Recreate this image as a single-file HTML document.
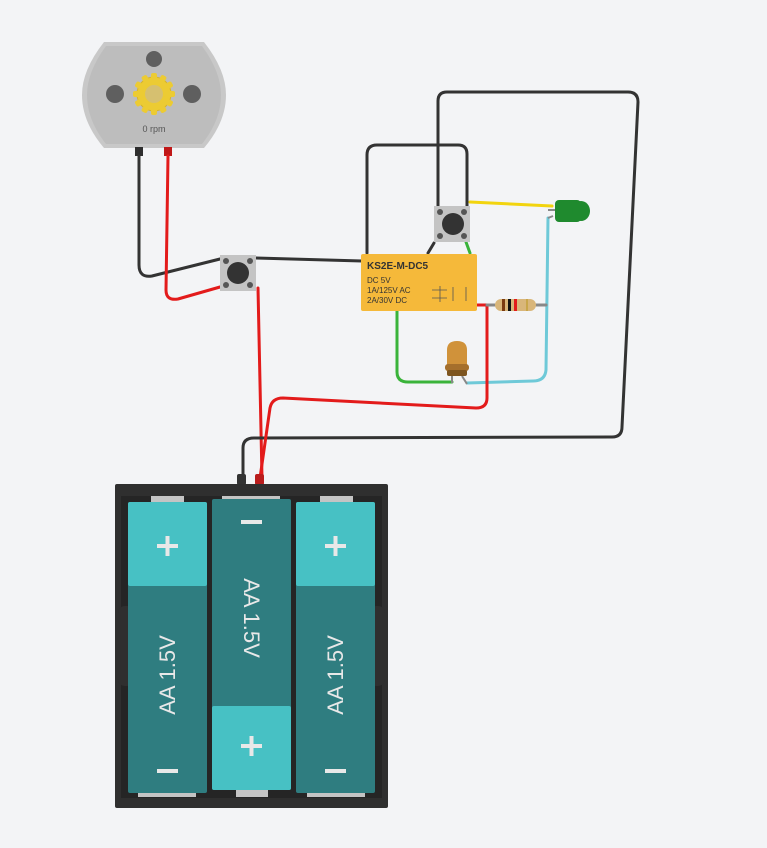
<!DOCTYPE html>
<html><head><style>html,body{margin:0;padding:0;background:#f3f4f6;}svg{display:block}</style></head>
<body>
<svg width="767" height="848" viewBox="0 0 767 848" xmlns="http://www.w3.org/2000/svg" font-family="Liberation Sans, sans-serif">
<rect width="767" height="848" fill="#f3f4f6"/>
<!-- motor -->
<path d="M104,42 L204,42 Q226,70 226,95 Q226,122 204,148 L104,148 Q82,122 82,95 Q82,70 104,42 Z" fill="#c8c8c8"/>
<path d="M106,46 L202,46 Q221,72 221,95 Q221,120 202,144 L106,144 Q87,120 87,95 Q87,72 106,46 Z" fill="#bdbdbd"/>
<circle cx="154" cy="59" r="8" fill="#5f5f5f"/>
<circle cx="115" cy="94" r="9" fill="#5f5f5f"/>
<circle cx="192" cy="94" r="9" fill="#5f5f5f"/>
<g fill="#eccb33" stroke="#d8b528" stroke-width="1">
<circle cx="154" cy="94" r="17"/>
<g stroke="none"><rect x="151" y="73" width="6" height="42" rx="2"/><rect x="151" y="73" width="6" height="42" rx="2" transform="rotate(30 154 94)"/><rect x="151" y="73" width="6" height="42" rx="2" transform="rotate(60 154 94)"/><rect x="151" y="73" width="6" height="42" rx="2" transform="rotate(90 154 94)"/><rect x="151" y="73" width="6" height="42" rx="2" transform="rotate(120 154 94)"/><rect x="151" y="73" width="6" height="42" rx="2" transform="rotate(150 154 94)"/></g>
</g>
<circle cx="154" cy="94" r="9" fill="#d6c070"/>
<text x="154" y="132" font-size="9" fill="#555" text-anchor="middle">0 rpm</text>
<rect x="135" y="147" width="8" height="9" fill="#2e2e2e"/>
<rect x="164" y="147" width="8" height="9" fill="#c01818"/>

<!-- wires -->
<g fill="none" stroke-width="3" stroke-linecap="round" stroke-linejoin="round">
<path d="M139,156 L139,265 Q139,278 152,276 L220,259" stroke="#333"/>
<path d="M168,156 L166,290 Q166,301 178,299 L220,287" stroke="#e31b1b"/>
<path d="M256,258 L362,261" stroke="#333"/>
<path d="M258,288 L262,478" stroke="#e31b1b"/>
<path d="M243,476 L243,448 Q243,438 254,438 L612,437 Q622,437 622,427 L638,102 Q638,92 628,92 L447,92 Q438,92 438,101 L438,209" stroke="#333"/>
<path d="M367,253 L367,155 Q367,145 377,145 L458,145 Q467,145 467,154 L467,209" stroke="#333"/>
<path d="M470,202 L552,206" stroke="#f2d40f"/>
<path d="M548,218 L546,370 Q545,381 533,381 L467,383" stroke="#6ec9d8"/>
<path d="M536,305 L546,305" stroke="#888"/>
<path d="M397,311 L397,372 Q397,382 408,382 L452,382" stroke="#3ab33a"/>
<path d="M466,242 L470,253" stroke="#3ab33a"/>
<path d="M477,305 L487,305 L487,398 Q487,408 476,408 L283,398 Q272,398 270,408 L260,478" stroke="#e31b1b"/>
<path d="M487,305 L495,305" stroke="#888"/>
<path d="M434,243 L428,253" stroke="#333"/>
</g>

<!-- button 1 -->
<rect x="220" y="255" width="36" height="36" fill="#c4c4c4"/>
<circle cx="226" cy="261" r="3" fill="#555"/><circle cx="250" cy="261" r="3" fill="#555"/>
<circle cx="226" cy="285" r="3" fill="#555"/><circle cx="250" cy="285" r="3" fill="#555"/>
<circle cx="238" cy="273" r="11" fill="#333"/>
<!-- button 2 -->
<rect x="434" y="206" width="36" height="36" fill="#c4c4c4"/>
<circle cx="440" cy="212" r="3" fill="#555"/><circle cx="464" cy="212" r="3" fill="#555"/>
<circle cx="440" cy="236" r="3" fill="#555"/><circle cx="464" cy="236" r="3" fill="#555"/>
<circle cx="453" cy="224" r="11" fill="#333"/>

<!-- relay -->
<rect x="361" y="254" width="116" height="57" rx="2" fill="#f5b93a"/>
<text x="367" y="269" font-size="10" font-weight="bold" fill="#333">KS2E-M-DC5</text>
<text x="367" y="283" font-size="8" fill="#333">DC 5V</text>
<text x="367" y="293" font-size="8" fill="#333">1A/125V AC</text>
<text x="367" y="303" font-size="8" fill="#333">2A/30V  DC</text>
<g stroke="#555" stroke-width="0.8" fill="none"><path d="M432,290 h15 M432,298 h15 M440,286 v16 M453,287 v14 M466,287 v14"/></g>

<!-- resistor -->
<rect x="495" y="299" width="41" height="12" rx="6" fill="#d9b67a"/>
<rect x="502" y="299" width="3" height="12" fill="#7a3b12"/>
<rect x="508" y="299" width="3" height="12" fill="#111"/>
<rect x="514" y="299" width="3" height="12" fill="#e31b1b"/>
<rect x="526" y="299" width="2" height="12" fill="#c9a64a"/>

<!-- green LED -->
<path d="M548,210 L555,210 M548,218 L553,216" stroke="#888" stroke-width="2"/>
<rect x="555" y="200" width="26" height="22" rx="4" fill="#1f8a2e"/>
<ellipse cx="581" cy="211" rx="9" ry="10" fill="#1f8a2e"/>

<!-- orange LED -->
<path d="M452,376 L452,383 M462,376 L467,384" stroke="#888" stroke-width="2"/>
<path d="M447,350 Q447,341 457,341 Q467,341 467,350 L467,372 L447,372 Z" fill="#d0923a"/>
<rect x="445" y="364" width="24" height="7" rx="3" fill="#a56f2c"/>
<rect x="447" y="370" width="20" height="6" rx="2" fill="#7d5520"/>

<!-- battery -->
<rect x="237" y="474" width="9" height="11" rx="2" fill="#333"/>
<rect x="255" y="474" width="9" height="11" rx="2" fill="#b91c1c"/>
<rect x="115" y="484" width="273" height="324" rx="2" fill="#2f2f2f"/>
<rect x="121" y="496" width="261" height="302" fill="#252525"/>
<rect x="118" y="606" width="16" height="80" rx="7" fill="#2f2f2f"/>
<rect x="369" y="606" width="16" height="80" rx="7" fill="#2f2f2f"/>
<rect x="151" y="496" width="33" height="7" fill="#c4c4c4"/>
<rect x="222" y="496" width="58" height="4" fill="#c4c4c4"/>
<rect x="320" y="496" width="33" height="7" fill="#c4c4c4"/>
<rect x="138" y="792" width="58" height="5" fill="#c4c4c4"/>
<rect x="236" y="790" width="32" height="7" fill="#c4c4c4"/>
<rect x="307" y="792" width="58" height="5" fill="#c4c4c4"/>
<rect x="128" y="502" width="79" height="291" rx="2" fill="#2f7d80"/>
<rect x="128" y="502" width="79" height="84" rx="2" fill="#47c1c4"/>
<rect x="212" y="499" width="79" height="291" rx="2" fill="#2f7d80"/>
<rect x="212" y="706" width="79" height="84" rx="2" fill="#47c1c4"/>
<rect x="296" y="502" width="79" height="291" rx="2" fill="#2f7d80"/>
<rect x="296" y="502" width="79" height="84" rx="2" fill="#47c1c4"/>
<g fill="#e8e8e8">
<rect x="157" y="544" width="21" height="4"/><rect x="165.5" y="536" width="4" height="20"/>
<rect x="325" y="544" width="21" height="4"/><rect x="333.5" y="536" width="4" height="20"/>
<rect x="241" y="744" width="21" height="4"/><rect x="249.5" y="736" width="4" height="20"/>
<rect x="157" y="769" width="21" height="4"/>
<rect x="325" y="769" width="21" height="4"/>
<rect x="241" y="520" width="21" height="4"/>
</g>
<g fill="#e8e8e8" font-size="22" text-anchor="middle">
<text transform="translate(175,675) rotate(-90)">AA 1.5V</text>
<text transform="translate(343,675) rotate(-90)">AA 1.5V</text>
<text transform="translate(244,618) rotate(90)">AA 1.5V</text>
</g>
</svg>
</body></html>
